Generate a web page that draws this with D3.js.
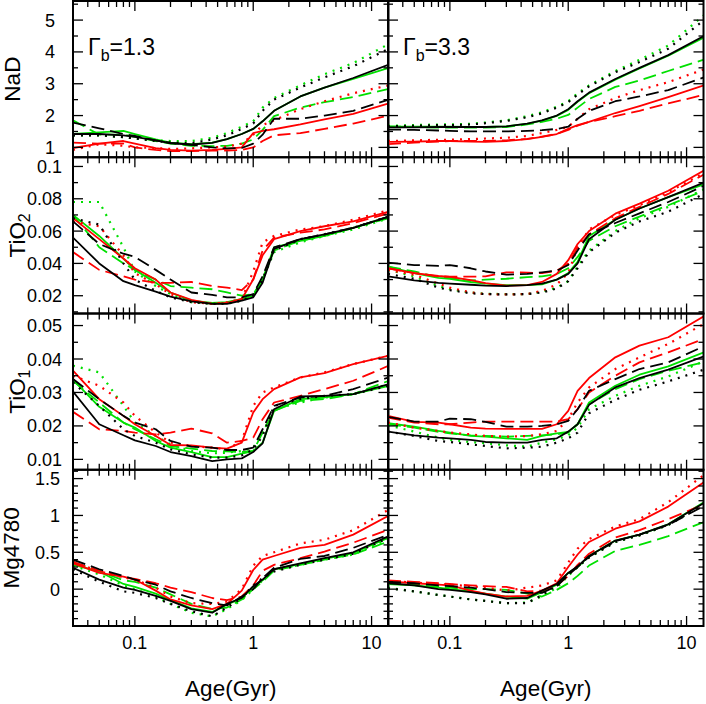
<!DOCTYPE html>
<html><head><meta charset="utf-8">
<script src="https://cdn.jsdelivr.net/npm/d3@7"></script>
<style>body{margin:0;background:#fff}svg{display:block}text{font-family:"Liberation Sans",Arial,sans-serif;fill:#000}</style>
</head><body>
<svg id="c" width="706" height="704"></svg>
<script>
// ---------------- data ----------------
const ages = [0.03,0.05,0.08,0.1,0.15,0.2,0.3,0.45,0.6,0.8,1.0,1.2,1.5,2.5,4,7,14];
// series order: black solid, black dashed, black dotted, green solid, green dashed, green dotted, red solid, red dashed, red dotted
const seriesColors = ["black","black","black","green","green","green","red","red","red"];
const seriesStyles = ["solid","dashed","dotted","solid","dashed","dotted","solid","dashed","dotted"];
const gammaLabels = ["1.3","3.3"];
const indexNames = ["NaD","TiO2","TiO1","Mg4780"];

const nadG13 = [
 [1.42,1.42,1.38,1.33,1.22,1.13,1.09,1.14,1.26,1.42,1.58,1.82,2.15,2.6,2.88,3.18,3.6],
 [1.78,1.6,1.42,1.36,1.22,1.14,1.08,1.0,0.97,0.98,1.12,1.4,1.9,1.9,2.0,2.15,2.5],
 [1.38,1.38,1.32,1.28,1.2,1.15,1.13,1.25,1.38,1.58,1.75,2.15,2.5,2.88,3.2,3.55,4.1],
 [1.42,1.47,1.52,1.42,1.25,1.15,1.1,1.15,1.26,1.42,1.58,1.82,2.15,2.6,2.88,3.15,3.5],
 [1.85,1.4,1.4,1.33,1.2,1.12,1.05,1.04,1.05,1.12,1.25,1.55,1.98,2.25,2.42,2.58,2.84],
 [1.38,1.38,1.32,1.28,1.22,1.2,1.2,1.3,1.45,1.65,1.82,2.25,2.55,2.95,3.3,3.65,4.25],
 [0.98,1.12,1.2,1.12,0.98,0.92,0.9,0.92,0.95,1.0,1.45,1.52,1.57,1.72,1.88,2.05,2.38],
 [1.15,1.12,1.12,1.0,0.92,0.88,0.88,0.9,0.9,0.92,1.0,1.2,1.38,1.45,1.58,1.75,2.0],
 [0.92,1.1,1.05,1.0,0.98,0.95,0.97,1.0,1.02,1.12,1.4,1.7,1.85,2.2,2.45,2.7,2.95]
];
const nadG33 = [
 [1.63,1.63,1.64,1.64,1.64,1.64,1.66,1.75,1.85,2.0,2.2,2.45,2.72,3.15,3.5,3.9,4.5],
 [1.56,1.55,1.53,1.52,1.5,1.5,1.5,1.52,1.54,1.58,1.65,1.9,2.15,2.45,2.6,2.8,3.2],
 [1.66,1.68,1.7,1.7,1.72,1.76,1.83,1.95,2.07,2.25,2.42,2.66,2.92,3.36,3.68,4.1,5.0],
 [1.65,1.65,1.65,1.65,1.64,1.64,1.66,1.74,1.84,1.99,2.18,2.43,2.7,3.13,3.48,3.88,4.45],
 [1.66,1.64,1.62,1.62,1.62,1.62,1.64,1.72,1.8,1.9,2.02,2.25,2.52,2.9,3.1,3.4,3.76],
 [1.68,1.7,1.72,1.72,1.74,1.78,1.85,1.98,2.1,2.28,2.45,2.7,2.95,3.4,3.75,4.2,5.15],
 [1.17,1.18,1.2,1.2,1.18,1.17,1.2,1.26,1.33,1.42,1.58,1.7,1.8,2.08,2.3,2.58,2.95],
 [1.1,1.15,1.18,1.2,1.2,1.2,1.22,1.27,1.34,1.42,1.55,1.68,1.8,1.98,2.15,2.38,2.65],
 [1.2,1.22,1.24,1.24,1.26,1.28,1.3,1.36,1.45,1.55,1.65,1.9,2.2,2.55,2.8,3.05,3.45]
];
const tio2G13 = [
 [0.056,0.04,0.029,0.0265,0.0225,0.0195,0.0165,0.015,0.015,0.017,0.019,0.028,0.049,0.055,0.058,0.062,0.069],
 [0.066,0.052,0.046,0.044,0.036,0.03,0.022,0.0205,0.019,0.019,0.021,0.032,0.05,0.055,0.058,0.062,0.069],
 [0.068,0.064,0.04,0.03,0.023,0.019,0.016,0.015,0.015,0.017,0.02,0.03,0.048,0.055,0.058,0.062,0.069],
 [0.07,0.057,0.043,0.036,0.028,0.022,0.017,0.0155,0.016,0.018,0.02,0.03,0.05,0.054,0.057,0.062,0.069],
 [0.07,0.05,0.04,0.036,0.03,0.026,0.025,0.024,0.022,0.02,0.021,0.03,0.048,0.054,0.057,0.062,0.068],
 [0.078,0.078,0.05,0.035,0.026,0.021,0.016,0.015,0.0155,0.017,0.02,0.03,0.047,0.053,0.057,0.061,0.068],
 [0.068,0.055,0.043,0.037,0.03,0.022,0.0175,0.015,0.0155,0.018,0.03,0.045,0.055,0.06,0.063,0.066,0.072],
 [0.047,0.036,0.032,0.03,0.028,0.028,0.0285,0.026,0.025,0.0235,0.03,0.048,0.056,0.059,0.061,0.065,0.071],
 [0.066,0.063,0.045,0.034,0.027,0.021,0.016,0.015,0.016,0.018,0.035,0.053,0.057,0.061,0.063,0.067,0.073]
];
const tio2G33 = [
 [0.032,0.0295,0.028,0.0275,0.0268,0.0262,0.026,0.0265,0.0275,0.03,0.0335,0.04,0.055,0.067,0.074,0.081,0.09],
 [0.0405,0.039,0.0385,0.039,0.037,0.035,0.033,0.0335,0.0345,0.0355,0.039,0.048,0.058,0.065,0.071,0.078,0.088],
 [0.0335,0.0305,0.025,0.0235,0.0215,0.021,0.0208,0.021,0.022,0.0245,0.029,0.037,0.047,0.059,0.066,0.072,0.083],
 [0.038,0.034,0.031,0.0305,0.0285,0.0275,0.0265,0.0265,0.027,0.03,0.034,0.041,0.057,0.067,0.074,0.081,0.089],
 [0.038,0.035,0.0315,0.031,0.0295,0.03,0.0305,0.0315,0.032,0.0335,0.037,0.044,0.054,0.063,0.069,0.076,0.085],
 [0.036,0.032,0.026,0.024,0.022,0.0212,0.021,0.021,0.0225,0.025,0.029,0.038,0.048,0.06,0.068,0.075,0.086],
 [0.037,0.034,0.0322,0.0317,0.0297,0.0278,0.0262,0.0265,0.0285,0.0335,0.042,0.052,0.06,0.0708,0.077,0.085,0.0975],
 [0.037,0.034,0.032,0.0318,0.0318,0.032,0.0345,0.0343,0.034,0.0355,0.04,0.05,0.058,0.068,0.075,0.083,0.095],
 [0.036,0.033,0.0275,0.025,0.022,0.021,0.0208,0.021,0.023,0.027,0.034,0.05,0.061,0.07,0.076,0.084,0.096]
];
const tio1G13 = [
 [0.0303,0.0205,0.0172,0.0157,0.014,0.0122,0.011,0.0095,0.01,0.0103,0.0122,0.0148,0.025,0.0288,0.029,0.0295,0.0325],
 [0.034,0.028,0.023,0.021,0.019,0.0155,0.0138,0.0135,0.0128,0.0128,0.0135,0.019,0.026,0.0285,0.029,0.031,0.0345],
 [0.033,0.026,0.019,0.017,0.015,0.013,0.0115,0.0105,0.0105,0.0112,0.013,0.017,0.026,0.028,0.029,0.0295,0.032],
 [0.0338,0.0257,0.021,0.0195,0.0155,0.0135,0.0122,0.0107,0.0107,0.0117,0.0125,0.015,0.0245,0.028,0.0285,0.0295,0.032],
 [0.0335,0.027,0.021,0.019,0.016,0.014,0.0132,0.0125,0.0124,0.0122,0.0125,0.018,0.0245,0.0275,0.028,0.0295,0.0335],
 [0.038,0.036,0.026,0.021,0.017,0.0145,0.0125,0.0118,0.012,0.0125,0.0135,0.018,0.025,0.027,0.0285,0.0295,0.0325],
 [0.0365,0.028,0.023,0.0205,0.017,0.0143,0.0142,0.0135,0.0132,0.015,0.024,0.028,0.031,0.0345,0.0358,0.0385,0.041],
 [0.0242,0.019,0.0185,0.018,0.0175,0.018,0.0192,0.0178,0.015,0.0155,0.0165,0.022,0.027,0.029,0.031,0.0335,0.038],
 [0.035,0.032,0.027,0.023,0.018,0.015,0.014,0.0135,0.013,0.0155,0.026,0.03,0.0315,0.0345,0.036,0.0385,0.041]
];
const tio1G33 = [
 [0.0183,0.0172,0.0165,0.0163,0.0158,0.0152,0.015,0.015,0.0158,0.0163,0.0183,0.0205,0.0263,0.0315,0.0343,0.0368,0.0408],
 [0.0227,0.0213,0.0213,0.0222,0.022,0.0212,0.0198,0.0198,0.02,0.0205,0.0215,0.025,0.0305,0.034,0.037,0.039,0.0438],
 [0.0183,0.017,0.0155,0.0152,0.0145,0.014,0.0133,0.0135,0.0138,0.015,0.0163,0.018,0.0238,0.0278,0.0308,0.0333,0.0368],
 [0.0208,0.0198,0.0185,0.018,0.017,0.0168,0.0163,0.0158,0.017,0.0178,0.0182,0.0205,0.027,0.032,0.0353,0.0378,0.042],
 [0.0205,0.0195,0.0182,0.0178,0.0172,0.017,0.0168,0.017,0.0172,0.0175,0.018,0.0205,0.0265,0.031,0.034,0.0365,0.039],
 [0.0202,0.0183,0.0165,0.0158,0.0152,0.0148,0.0142,0.0138,0.015,0.016,0.0172,0.0195,0.025,0.029,0.032,0.0348,0.0393],
 [0.023,0.0212,0.021,0.0205,0.0195,0.0192,0.0191,0.0191,0.0191,0.0205,0.0245,0.0305,0.0343,0.0405,0.044,0.0465,0.0528],
 [0.0225,0.021,0.0205,0.0205,0.021,0.0213,0.0213,0.0213,0.0213,0.0213,0.022,0.025,0.03,0.035,0.039,0.042,0.046],
 [0.021,0.0195,0.0185,0.018,0.0175,0.017,0.0168,0.017,0.0175,0.0185,0.022,0.027,0.0315,0.037,0.0405,0.0445,0.0505]
];
const mgG13 = [
 [0.29,0.13,0.02,-0.01,-0.09,-0.16,-0.27,-0.32,-0.2,-0.12,0.04,0.13,0.27,0.35,0.42,0.5,0.72],
 [0.4,0.27,0.18,0.13,0.06,-0.03,-0.12,-0.19,-0.22,-0.1,0.0,0.15,0.29,0.41,0.45,0.56,0.74],
 [0.27,0.1,-0.03,-0.05,-0.12,-0.2,-0.3,-0.37,-0.25,-0.12,0.05,0.15,0.24,0.33,0.4,0.48,0.7],
 [0.33,0.24,0.07,0.03,-0.06,-0.15,-0.26,-0.31,-0.21,-0.12,0.03,0.12,0.27,0.34,0.41,0.49,0.7],
 [0.36,0.24,0.12,0.1,0.02,-0.07,-0.2,-0.27,-0.25,-0.14,0.0,0.1,0.25,0.33,0.4,0.47,0.65],
 [0.32,0.2,0.05,0.0,-0.1,-0.2,-0.32,-0.37,-0.27,-0.15,0.0,0.12,0.26,0.33,0.4,0.47,0.68],
 [0.35,0.22,0.17,0.13,-0.02,-0.14,-0.22,-0.27,-0.2,-0.02,0.26,0.4,0.45,0.56,0.6,0.74,1.0],
 [0.37,0.25,0.16,0.14,0.08,0.02,-0.04,-0.12,-0.15,-0.1,0.05,0.25,0.33,0.42,0.51,0.63,0.81],
 [0.37,0.24,0.16,0.13,0.02,-0.1,-0.19,-0.2,-0.17,0.0,0.32,0.45,0.5,0.62,0.67,0.8,1.08]
];
const mgG33 = [
 [0.08,0.05,0.0,-0.01,-0.04,-0.07,-0.13,-0.12,-0.02,0.07,0.22,0.31,0.45,0.66,0.74,0.88,1.17],
 [0.1,0.08,0.05,0.04,0.02,0.0,-0.04,-0.05,-0.05,0.04,0.19,0.3,0.44,0.65,0.74,0.87,1.13],
 [0.01,-0.03,-0.08,-0.1,-0.14,-0.16,-0.19,-0.19,-0.08,0.05,0.2,0.3,0.43,0.64,0.73,0.87,1.15],
 [0.07,0.05,0.02,0.0,-0.03,-0.06,-0.1,-0.13,-0.04,0.06,0.22,0.3,0.45,0.66,0.74,0.88,1.18],
 [0.08,0.06,0.03,0.02,0.0,0.0,-0.01,-0.06,-0.1,-0.01,0.08,0.18,0.32,0.52,0.6,0.72,0.91],
 [0.02,-0.03,-0.08,-0.1,-0.14,-0.16,-0.19,-0.18,-0.1,0.02,0.18,0.3,0.43,0.64,0.73,0.87,1.15],
 [0.105,0.08,0.06,0.05,-0.02,-0.06,-0.1,-0.09,-0.02,0.08,0.3,0.47,0.64,0.82,0.92,1.12,1.45],
 [0.12,0.1,0.08,0.07,0.05,0.04,0.03,-0.03,-0.02,0.05,0.18,0.33,0.48,0.7,0.8,0.95,1.15],
 [0.11,0.09,0.07,0.06,0.04,0.02,-0.02,0.02,0.05,0.12,0.36,0.55,0.68,0.85,0.95,1.18,1.55]
];
const panelData = [[nadG13,nadG33],[tio2G13,tio2G33],[tio1G13,tio1G33],[mgG13,mgG33]];

const xDomain = [0.03, 13.9];
const xMajor = [0.1, 1, 10];
const yDomains = [[0.69,5.6],[0.009,0.1057],[0.0069,0.0536],[-0.5,1.62]];
const yMajorTicks = [[1,2,3,4,5],[0.02,0.04,0.06,0.08,0.1],[0.01,0.02,0.03,0.04,0.05],[0,0.5,1,1.5]];
const yMajorLabels = [["1","2","3","4","5"],["0.02","0.04","0.06","0.08","0.1"],["0.01","0.02","0.03","0.04","0.05"],["0","0.5","1","1.5"]];
const yMinorStep = [0.5, 0.01, 0.005, 0.1];

// ---------------- layout ----------------
const svg = d3.select("#c");
const colX = [73, 388], W = 315.5;
const top0 = 1, H = 156.25;
const colorMap = {black:"#000000", green:"#00e000", red:"#ff0000"};
const dashMap = {solid:null, dashed:"13,6", dotted:"2,6"};
const labelRight = [55, 62, 62, 60];
const drawOrder = [3,4,5,6,7,8,0,1,2];

const defs = svg.append("defs");

for (let r = 0; r < 4; r++) {
  for (let c = 0; c < 2; c++) {
    const x0 = colX[c], y0 = top0 + r*H;
    const x = d3.scaleLog().domain(xDomain).range([x0, x0+W]);
    const y = d3.scaleLinear().domain(yDomains[r]).range([y0+H, y0]);
    const id = `clip${r}${c}`;
    defs.append("clipPath").attr("id", id).append("rect")
      .attr("x", x0).attr("y", y0).attr("width", W).attr("height", H);
    const g = svg.append("g");
    const lg = g.append("g").attr("clip-path", `url(#${id})`);
    const line = d3.line().x((d,i)=>x(ages[i])).y(d=>y(d));
    const data = panelData[r][c];
    drawOrder.forEach(s => {
      lg.append("path").attr("d", line(data[s]))
        .attr("fill","none")
        .attr("stroke", colorMap[seriesColors[s]])
        .attr("stroke-width", seriesStyles[s]==="dotted" ? 2.2 : 1.8)
        .attr("stroke-dasharray", dashMap[seriesStyles[s]])
        .attr("stroke-linejoin","round");
    });

    // x ticks (top & bottom, inward)
    const xMinor = [];
    [0.01,0.1,1,10].forEach(dec => { for (let k=2;k<=9;k++){ const v=dec*k; if (v>=xDomain[0] && v<=xDomain[1]) xMinor.push(v);} });
    const tg = g.append("g").attr("stroke","#000").attr("stroke-width",1.3);
    xMinor.forEach(v => {
      tg.append("line").attr("x1",x(v)).attr("x2",x(v)).attr("y1",y0+H).attr("y2",y0+H-6);
      tg.append("line").attr("x1",x(v)).attr("x2",x(v)).attr("y1",y0).attr("y2",y0+6);
    });
    xMajor.forEach(v => {
      tg.append("line").attr("x1",x(v)).attr("x2",x(v)).attr("y1",y0+H).attr("y2",y0+H-10);
      tg.append("line").attr("x1",x(v)).attr("x2",x(v)).attr("y1",y0).attr("y2",y0+10);
    });
    // y ticks
    const [ya, yb] = yDomains[r];
    const st = yMinorStep[r];
    for (let k = Math.ceil(ya/st - 1e-6); k*st <= yb + 1e-9; k++) {
      const v = k*st;
      const isMajor = yMajorTicks[r].some(m => Math.abs(m - v) < st*1e-3);
      const len = isMajor ? 10 : 5;
      tg.append("line").attr("x1",x0).attr("x2",x0+len).attr("y1",y(v)).attr("y2",y(v));
      tg.append("line").attr("x1",x0+W).attr("x2",x0+W-len).attr("y1",y(v)).attr("y2",y(v));
    }
    // frame
    g.append("rect").attr("x",x0).attr("y",y0).attr("width",W).attr("height",H)
      .attr("fill","none").attr("stroke","#000").attr("stroke-width",2);

    // y tick labels (left column only)
    if (c === 0) {
      yMajorTicks[r].forEach((v,i) => {
        g.append("text").attr("x", labelRight[r]).attr("y", y(v)+6.5)
          .attr("text-anchor","end").attr("font-size",18).text(yMajorLabels[r][i]);
      });
    }
    // x tick labels (bottom row)
    if (r === 3) {
      xMajor.forEach(v => {
        g.append("text").attr("x", x(v)).attr("y", y0+H+23)
          .attr("text-anchor","middle").attr("font-size",18).text(String(v));
      });
      g.append("text").attr("x", x0+W/2).attr("y", 696)
        .attr("text-anchor","middle").attr("font-size",22.5).text("Age(Gyr)");
    }
    // gamma label (top row)
    if (r === 0) {
      const t = g.append("text").attr("x", x0+15).attr("y", 55).attr("font-size",23);
      t.append("tspan").text("Γ");
      t.append("tspan").attr("font-size",16).attr("dy",6).text("b");
      t.append("tspan").attr("dy",-6).text("=" + gammaLabels[c]);
    }
  }
  // y axis title
  const cy = top0 + r*H + H/2;
  const name = indexNames[r];
  const tx = r===0 ? 20 : (r===3 ? 19 : 25);
  const t = svg.append("text").attr("transform", `translate(${tx},${cy}) rotate(-90)`)
    .attr("text-anchor","middle").attr("font-size",22.5);
  if (name.startsWith("TiO")) {
    t.append("tspan").text("TiO");
    t.append("tspan").attr("font-size",16).attr("dy",5).text(name.slice(3));
  } else {
    t.text(name);
  }
}
</script>
</body></html>
